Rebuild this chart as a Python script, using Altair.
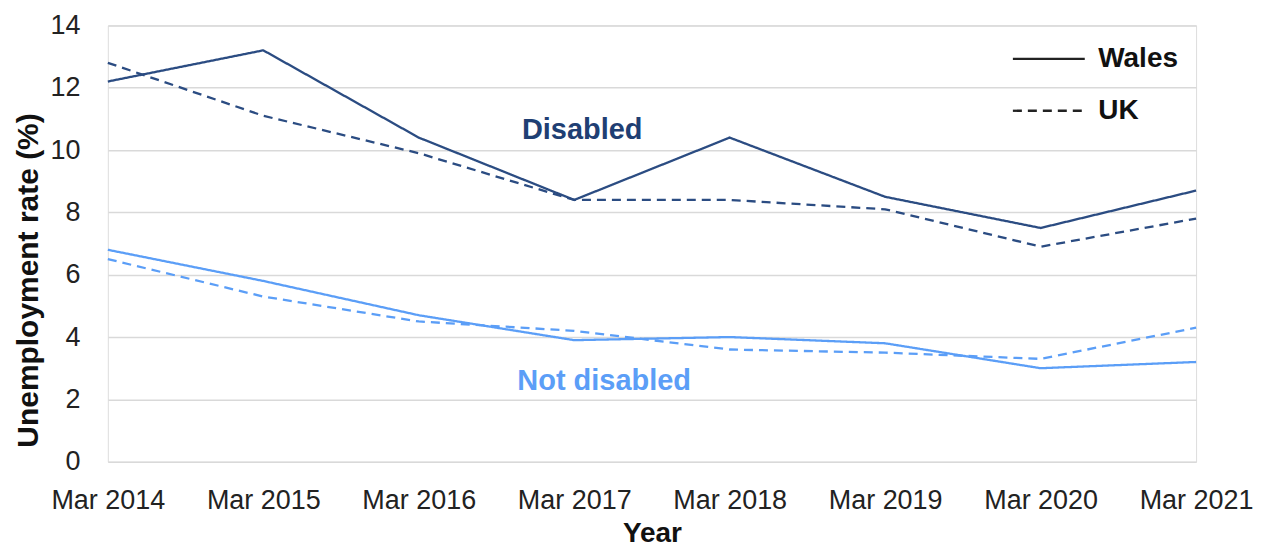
import altair as alt
import pandas as pd

years = ["Mar 2014", "Mar 2015", "Mar 2016", "Mar 2017", "Mar 2018", "Mar 2019", "Mar 2020", "Mar 2021"]
wales_disabled = [12.2, 13.2, 10.4, 8.4, 10.4, 8.5, 7.5, 8.7]
uk_disabled = [12.8, 11.1, 9.9, 8.4, 8.4, 8.1, 6.9, 7.8]
wales_not_disabled = [6.8, 5.8, 4.7, 3.9, 4.0, 3.8, 3.0, 3.2]
uk_not_disabled = [6.5, 5.3, 4.5, 4.2, 3.6, 3.5, 3.3, 4.3]

groups = ["Disabled", "Not disabled"]
areas = ["Wales", "UK"]

rows = []
for g, a, vals in [
    ("Disabled", "Wales", wales_disabled),
    ("Disabled", "UK", uk_disabled),
    ("Not disabled", "Wales", wales_not_disabled),
    ("Not disabled", "UK", uk_not_disabled),
]:
    for y, v in zip(years, vals):
        rows.append({"year": y, "rate": v, "group": g, "area": a})
df = pd.DataFrame(rows)

FONT = "Liberation Sans"
DARK = "#2B4C82"
LIGHT = "#5B9EF7"

x_enc = alt.X(
    "year:O",
    sort=years,
    scale=alt.Scale(type="point", padding=0),
    axis=alt.Axis(
        title="Year",
        labelAngle=0,
        grid=False,
        ticks=False,
        domain=False,
        labelPadding=26,
        labelFontSize=27,
        labelColor="#222222",
        labelFont=FONT,
        titleFont=FONT,
        titleFontSize=28,
        titleFontWeight="bold",
        titleColor="#111111",
        titleBaseline="alphabetic",
        titleY=80,
    ),
)
y_enc = alt.Y(
    "rate:Q",
    scale=alt.Scale(domain=[0, 14]),
    axis=alt.Axis(
        title="Unemployment rate (%)",
        values=list(range(0, 15, 2)),
        grid=True,
        gridColor="#d9d9d9",
        gridWidth=1.5,
        ticks=False,
        domain=False,
        labelPadding=28,
        labelFontSize=27,
        labelColor="#222222",
        labelFont=FONT,
        titleFont=FONT,
        titleFontSize=30,
        titleFontWeight="bold",
        titleColor="#111111",
        titleBaseline="middle",
        titleX=-79,
        titleY=255,
    ),
)

lines = alt.Chart(df).mark_line(strokeWidth=2.3).encode(
    x=x_enc,
    y=y_enc,
    color=alt.Color(
        "group:N",
        scale=alt.Scale(domain=groups, range=[DARK, LIGHT]),
        legend=None,
    ),
    strokeDash=alt.StrokeDash(
        "area:N",
        scale=alt.Scale(domain=areas, range=[[1, 0], [9, 6]]),
        legend=alt.Legend(
            title=None,
            orient="none",
            legendX=905,
            legendY=-4,
            symbolType="stroke",
            symbolSize=5184,
            symbolStrokeWidth=2.3,
            symbolStrokeColor="#222222",
            labelFont=FONT,
            labelFontSize=28,
            labelFontWeight="bold",
            labelColor="#111111",
            labelOffset=12,
            rowPadding=-24,
            padding=0,
        ),
    ),
)

label_disabled = alt.Chart().mark_text(
    font=FONT, fontSize=29, fontWeight="bold", color="#1F3F73", dx=8
).encode(x=alt.datum("Mar 2017"), y=alt.datum(10.65), text=alt.value("Disabled"))

label_not = alt.Chart().mark_text(
    font=FONT, fontSize=29, fontWeight="bold", color=LIGHT, dx=30
).encode(x=alt.datum("Mar 2017"), y=alt.datum(2.58), text=alt.value("Not disabled"))

chart = (
    alt.layer(lines, label_disabled, label_not)
    .properties(
        width=1090,
        height=437,
        autosize=alt.AutoSizeParams(type="none"),
        padding={"left": 100, "top": 17, "right": 57, "bottom": 88},
    )
    .configure_view(stroke=None)
    .configure(background="white")
)

chart.save("out.html", embed_options={"renderer": "svg", "actions": False})
